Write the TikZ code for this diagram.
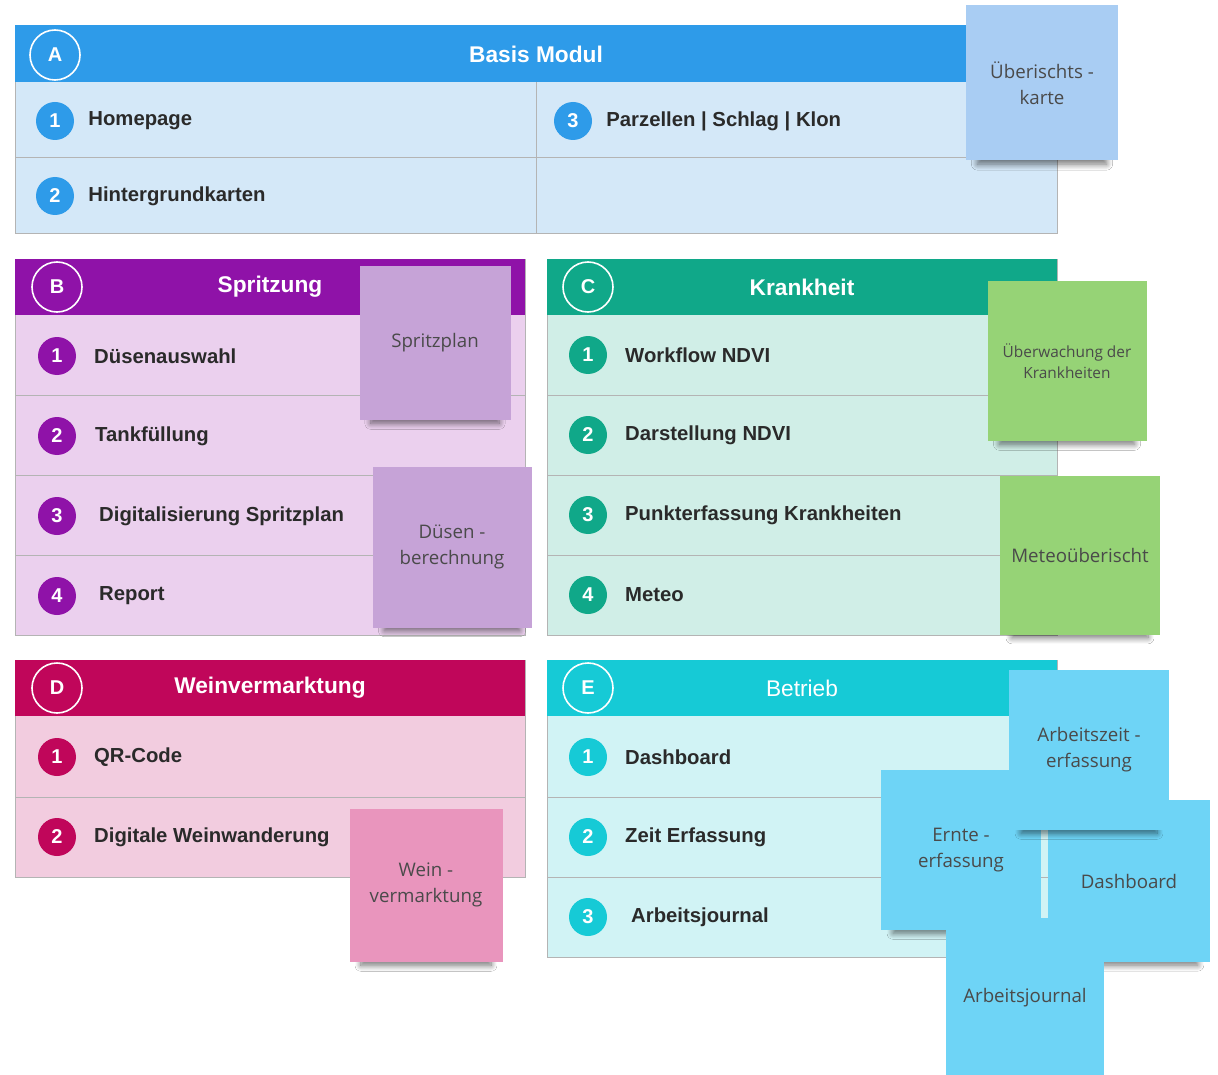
\documentclass[tikz,border=0pt]{standalone}
\usepackage{fontspec}
\setmainfont{Liberation Sans}
\newfontfamily\notefont{Open Sans}
\usetikzlibrary{shadows.blur}

% module colours (header / body / sticky note)
\definecolor{basishead}{HTML}{2E9BE9}
\definecolor{basisbody}{HTML}{D4E8F8}
\definecolor{basisnote}{HTML}{A9CDF3}
\definecolor{spritzhead}{HTML}{8F12A8}
\definecolor{spritzbody}{HTML}{EBD0EE}
\definecolor{spritznote}{HTML}{C6A3D7}
\definecolor{krankhead}{HTML}{10A889}
\definecolor{krankbody}{HTML}{D0EEE7}
\definecolor{kranknote}{HTML}{96D376}
\definecolor{weinhead}{HTML}{C0065A}
\definecolor{weinbody}{HTML}{F2CCDF}
\definecolor{weinnote}{HTML}{E995BD}
\definecolor{betriebhead}{HTML}{16CAD6}
\definecolor{betriebbody}{HTML}{D1F3F5}
\definecolor{betriebnote}{HTML}{6ED4F6}
\definecolor{panelline}{HTML}{B4B4B4}
\definecolor{textdark}{HTML}{2A2A2A}
\definecolor{notegray}{HTML}{4A4A4A}

\tikzset{
    letterring/.style={circle, draw=white, line width=1.6pt, minimum size=50pt, inner sep=0pt,
        text=white, font=\bfseries\fontsize{20}{20}\selectfont},
    badge/.style={circle, fill=#1, minimum size=38pt, inner sep=0pt,
        text=white, font=\bfseries\fontsize{20}{20}\selectfont},
    itemtext/.style={anchor=west, inner sep=0pt, text=textdark, font=\bfseries\fontsize{20.3}{22}\selectfont},
    titletext/.style={text=white, font=\bfseries\fontsize{22.7}{24}\selectfont},
    sticky/.style={fill=#1, minimum width=154pt, minimum height=155pt, inner sep=4pt,
        text=notegray, align=center, font=\notefont\fontsize{18.7}{26}\selectfont,
        blur shadow={shadow xshift=0pt, shadow yshift=-18pt, shadow blur radius=7pt,
            shadow blur steps=12, shadow opacity=55, shadow scale=0.85}}
}

\begin{document}
\begin{tikzpicture}[x=1pt,y=-1pt]
    \useasboundingbox (0,0) rectangle (1218,1075);
    \fill[white] (0,0) rectangle (1218,1075);

    % A - Basis Modul
    \fill[basisbody] (15,82) rectangle (1057,233);
    \draw[panelline] (15,157) -- (1057,157);
    \draw[panelline] (536,82) -- (536,233);
    \draw[panelline] (15,25) rectangle (1057,233);
    \fill[basishead] (15,25) rectangle (1057,82);
    \node[letterring] (ringA) at (55,55) {A};
    \node[titletext] (titleA) at (536,54) {Basis Modul};
    \foreach \n/\x/\y/\txt in {1/55/121/Homepage, 2/55/196/Hintergrundkarten, 3/573/121/Parzellen | Schlag | Klon} {
        \node[badge=basishead] (badgeA\n) at (\x,\y) {\n};
        \node[itemtext, right=14pt] (itemA\n) at (badgeA\n.east) {\txt};
    }

    % B - Spritzung
    \fill[spritzbody] (15,315) rectangle (525,635);
    \foreach \r in {395,475,555} \draw[panelline] (15,\r) -- (525,\r);
    \draw[panelline] (15,259) rectangle (525,635);
    \fill[spritzhead] (15,259) rectangle (525,315);
    \node[letterring] (ringB) at (57,287) {B};
    \node[titletext] (titleB) at (270,287) {Spritzung};
    \foreach \n/\y/\x/\txt in {1/356/94/Düsenauswahl, 2/436/95/Tankfüllung, 3/516/99/Digitalisierung Spritzplan, 4/596/99/Report} {
        \node[badge=spritzhead] (badgeB\n) at (57,\y) {\n};
        \node[itemtext] (itemB\n) at (\x,\y) {\txt};
    }

    % C - Krankheit
    \fill[krankbody] (547,315) rectangle (1057,635);
    \foreach \r in {395,475,555} \draw[panelline] (547,\r) -- (1057,\r);
    \draw[panelline] (547,259) rectangle (1057,635);
    \fill[krankhead] (547,259) rectangle (1057,315);
    \node[letterring] (ringC) at (588,287) {C};
    \node[titletext] (titleC) at (802,287) {Krankheit};
    \foreach \n/\y/\txt in {1/355/Workflow NDVI, 2/435/Darstellung NDVI, 3/515/Punkterfassung Krankheiten, 4/595/Meteo} {
        \node[badge=krankhead] (badgeC\n) at (588,\y) {\n};
        \node[itemtext] (itemC\n) at (625,\y) {\txt};
    }

    % D - Weinvermarktung
    \fill[weinbody] (15,716) rectangle (525,877);
    \draw[panelline] (15,797) -- (525,797);
    \draw[panelline] (15,660) rectangle (525,877);
    \fill[weinhead] (15,660) rectangle (525,716);
    \node[letterring] (ringD) at (57,688) {D};
    \node[titletext] (titleD) at (270,688) {Weinvermarktung};
    \foreach \n/\y/\txt in {1/757/QR-Code, 2/837/Digitale Weinwanderung} {
        \node[badge=weinhead] (badgeD\n) at (57,\y) {\n};
        \node[itemtext] (itemD\n) at (94,\y) {\txt};
    }

    % E - Betrieb
    \fill[betriebbody] (547,716) rectangle (1057,957);
    \foreach \r in {797,877} \draw[panelline] (547,\r) -- (1057,\r);
    \draw[panelline] (547,660) rectangle (1057,957);
    \fill[betriebhead] (547,660) rectangle (1057,716);
    \node[letterring] (ringE) at (588,688) {E};
    \node[titletext, font=\fontsize{22.7}{24}\selectfont] (titleE) at (802,688) {Betrieb};
    \foreach \n/\y/\x/\txt in {1/757/625/Dashboard, 2/837/625/Zeit Erfassung, 3/917/631/Arbeitsjournal} {
        \node[badge=betriebhead] (badgeE\n) at (588,\y) {\n};
        \node[itemtext] (itemE\n) at (\x,\y) {\txt};
    }

    % sticky notes on top
    \node[sticky=basisnote, minimum width=152pt] (noteKarte) at (1042,83) {Überischts -\\karte};
    \node[sticky=spritznote, minimum width=151pt, minimum height=153pt] (notePlan) at (435,343) {Spritzplan};
    \node[sticky=spritznote, minimum width=159pt, minimum height=161pt] (noteDuesen) at (452,547) {Düsen -\\berechnung};
    \node[sticky=kranknote, minimum width=159pt, minimum height=160pt,
        font=\notefont\fontsize{15.4}{21}\selectfont] (noteUeberwachung) at (1067,361) {Überwachung der\\Krankheiten};
    \node[sticky=kranknote, minimum width=160pt, minimum height=159pt] (noteMeteo) at (1080,555) {Meteoüberischt};
    \node[sticky=weinnote, minimum width=153pt, minimum height=153pt] (noteWein) at (426,885) {Wein -\\vermarktung};
    \node[sticky=betriebnote, minimum width=162pt, minimum height=162pt] (noteDashboard) at (1129,881) {Dashboard};
    \node[sticky=betriebnote, minimum width=160pt, minimum height=160pt] (noteErnte) at (961,850) {Ernte -\\erfassung};
    \node[sticky=betriebnote, minimum width=160pt, minimum height=160pt] (noteZeit) at (1089,750) {Arbeitszeit -\\erfassung};
    \node[sticky=betriebnote, minimum width=158pt, minimum height=160pt] (noteJournal) at (1025,998) {Arbeitsjournal};
\end{tikzpicture}
\end{document}
